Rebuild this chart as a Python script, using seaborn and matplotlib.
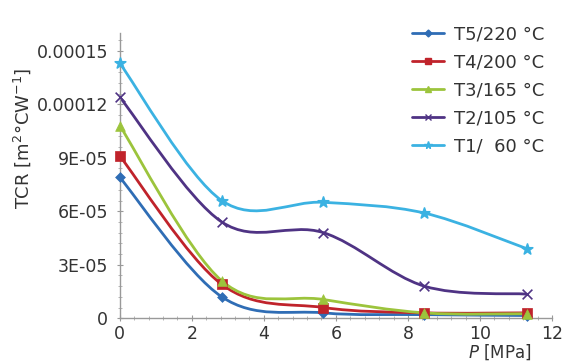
import numpy as np
import pandas as pd
import matplotlib
matplotlib.use("Agg")
import matplotlib.pyplot as plt
from matplotlib.path import Path
from matplotlib.patches import PathPatch
from matplotlib.lines import Line2D
from matplotlib.ticker import FixedLocator, AutoMinorLocator
import seaborn as sns

# ---- data ----
pressure = [0.0, 2.83, 5.65, 8.45, 11.3]
series_names = ["T5/220 °C", "T4/200 °C", "T3/165 °C", "T2/105 °C", "T1/  60 °C"]
t5 = [7.9e-05, 1.2e-05, 0.3e-05, 0.2e-05, 0.15e-05]
t4 = [9.1e-05, 1.9e-05, 0.6e-05, 0.3e-05, 0.3e-05]
t3 = [1.08e-04, 2.1e-05, 1.05e-05, 0.3e-05, 0.25e-05]
t2 = [1.24e-04, 5.4e-05, 4.8e-05, 1.8e-05, 1.35e-05]
t1 = [1.43e-04, 6.6e-05, 6.5e-05, 5.9e-05, 3.9e-05]
y_tick_values = [0, 3e-05, 6e-05, 9e-05, 1.2e-04, 1.5e-04]
y_tick_labels = ["0", "3E-05", "6E-05", "9E-05", "0.00012", "0.00015"]
x_tick_values = [0, 2, 4, 6, 8, 10, 12]

colors = ["#2f6db5", "#c0232b", "#9cc43c", "#4f3384", "#3bb2e2"]
markers = ["D", "s", "^", "x", "*"]
msizes = [5, 7, 7, 7, 8]

rows = []
for name, vals in zip(series_names, [t5, t4, t3, t2, t1]):
    for p, v in zip(pressure, vals):
        rows.append({"P": p, "TCR": v, "series": name})
df = pd.DataFrame(rows)

sns.set_style("white")
plt.rcParams["font.family"] = ["DejaVu Sans"]

fig = plt.figure(figsize=(5.65, 3.62), dpi=100)
ax = fig.add_axes([0.212, 0.121, 0.765, 0.788])


def smooth_path(xs, ys):
    pts = np.column_stack([xs, ys]).astype(float)
    n = len(pts)
    verts = [pts[0]]
    codes = [Path.MOVETO]
    for i in range(n - 1):
        p0 = pts[max(i - 1, 0)]
        p1 = pts[i]
        p2 = pts[i + 1]
        p3 = pts[min(i + 2, n - 1)]
        c1 = p1 + (p2 - p0) / 6.0
        c2 = p2 - (p3 - p1) / 6.0
        verts += [c1, c2, p2]
        codes += [Path.CURVE4] * 3
    return Path(verts, codes)


handles = []
for name, c, m, ms in zip(series_names, colors, markers, msizes):
    sub = df[df["series"] == name]
    patch = PathPatch(smooth_path(sub["P"].values, sub["TCR"].values),
                      facecolor="none", edgecolor=c, lw=2.0, zorder=2)
    ax.add_patch(patch)
    sns.scatterplot(data=sub, x="P", y="TCR", ax=ax, color=c, marker=m,
                    s=ms ** 2, edgecolor=c if m not in ("x",) else None,
                    linewidth=1.2 if m in ("x", "*") else 0.5,
                    zorder=3, clip_on=False, legend=False)
    handles.append(Line2D([0], [0], color=c, lw=2.0, marker=m,
                          markersize=ms * 0.7, markeredgecolor=c))

ax.set_xlim(0, 12)
ax.set_ylim(0, 1.6e-04)
ax.xaxis.set_major_locator(FixedLocator(x_tick_values))
ax.set_xticklabels([str(v) for v in x_tick_values])
ax.yaxis.set_major_locator(FixedLocator(y_tick_values))
ax.set_yticklabels(y_tick_labels)
ax.xaxis.set_minor_locator(AutoMinorLocator(5))
ax.yaxis.set_minor_locator(AutoMinorLocator(5))

for side in ["top", "right"]:
    ax.spines[side].set_visible(False)
for side in ["left", "bottom"]:
    ax.spines[side].set_color("#999999")
    ax.spines[side].set_linewidth(1.0)

ax.tick_params(axis="both", which="major", direction="inout", length=5,
               color="#999999", labelsize=12.5, labelcolor="#333333", pad=6,
               bottom=True, left=True)
ax.tick_params(axis="x", which="major", pad=2.5)
ax.tick_params(axis="both", which="minor", direction="inout", length=3,
               color="#aaaaaa", bottom=True, left=True)

ax.set_xlabel("")
ax.set_ylabel(r"TCR [m$^2$°CW$^{-1}$]", fontsize=13, color="#333333")
ax.yaxis.set_label_coords(-0.20, 0.63)
fig.text(0.94, 0.0, r"$\it{P}$ [MPa]", fontsize=12, color="#333333",
         ha="right", va="bottom")

leg = fig.legend(handles, series_names, loc="upper right",
                 bbox_to_anchor=(0.985, 0.965), frameon=False, fontsize=13,
                 handlelength=1.75, handletextpad=0.55, labelspacing=0.55,
                 borderpad=0.2)
for t in leg.get_texts():
    t.set_color("#333333")

fig.savefig("out.png", dpi=100)
